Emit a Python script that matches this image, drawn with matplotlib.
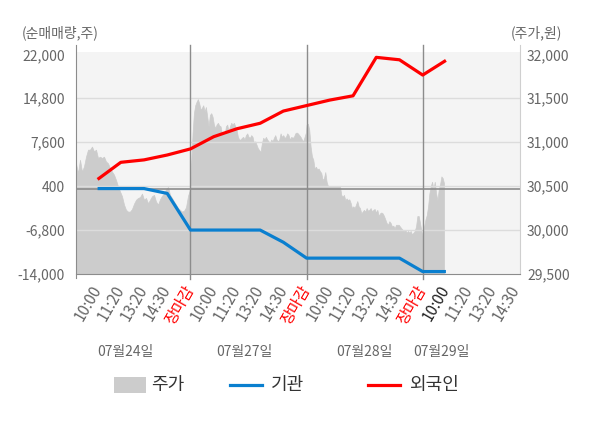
import numpy as np
import matplotlib
matplotlib.use('Agg')
import matplotlib.pyplot as plt
from matplotlib.patches import Rectangle
from matplotlib.lines import Line2D

plt.rcParams['font.family'] = ['Noto Sans CJK KR', 'DejaVu Sans']

# ---------------- data ----------------
tick_labels = ['10:00', '11:20', '13:20', '14:30', '장마감'] * 3 + ['10:00', '11:20', '13:20', '14:30']
date_labels = ['07월24일', '07월27일', '07월28일', '07월29일']
left_ticks = [22000, 14800, 7600, 400, -6800, -14000]
right_ticks = [29500, 30000, 30500, 31000, 31500, 32000]

foreign = [1500, 4300, 4700, 5500, 6500, 8500, 9800, 10700, 12700, 13600,
           14500, 15200, 21500, 21100, 18600, 21000]
institution = [0, 0, 0, -800, -6800, -6800, -6800, -6800, -8800, -11400,
               -11400, -11400, -11400, -11400, -13600, -13600]

price_day1 = [30755, 30650, 30800, 30665, 30725, 30835, 30915, 30915, 30950, 30895,
              30915, 30820, 30835, 30820, 30835, 30780, 30760, 30705, 30665, 30630,
              30570, 30495, 30440, 30385, 30290, 30230, 30210, 30210, 30240, 30300,
              30345, 30365, 30375, 30415, 30345, 30365, 30305, 30345, 30385, 30400,
              30325, 30290, 30350, 30390, 30415, 30465, 30490, 30400, 30365, 30325,
              30290, 30250, 30230, 30210, 30220, 30260, 30390, 30460]
price_day2 = [31100, 31330, 31420, 31460, 31490, 31440, 31370, 31390, 31420, 31350,
              31400, 31290, 31180, 31310, 31330, 31290, 31200, 31160, 31200, 31220,
              31190, 31180, 31100, 31120, 31080, 31180, 31200, 31120, 31180, 31220,
              31200, 31220, 31180, 31140, 31060, 31030, 31030, 31050, 31060, 31030,
              31080, 31100, 31060, 31050, 31080, 31060, 30990, 31010, 30970, 30930,
              30910, 30890, 30990, 31050, 31030, 31060, 31030, 31010, 30990, 31030,
              31010, 31050, 31080, 31030, 31010, 31030, 31100, 31060, 31080, 31050,
              31060, 31100, 31080, 31030, 31060, 31050, 31060, 31100, 31110, 31100,
              31080, 31060, 31030, 31010, 31060, 31110]
price_day3 = [31200, 31210, 31140, 30950, 30840, 30800, 30700, 30720, 30690, 30700,
              30670, 30650, 30570, 30590, 30660, 30550, 30500, 30500, 30500, 30500,
              30500, 30500, 30500, 30500, 30500, 30500, 30400, 30380, 30400, 30340,
              30360, 30340, 30350, 30310, 30250, 30270, 30250, 30290, 30330, 30270,
              30250, 30190, 30210, 30230, 30210, 30250, 30220, 30230, 30250, 30210,
              30230, 30240, 30200, 30230, 30160, 30190, 30200, 30190, 30160, 30120,
              30080, 30060, 30100, 30080, 30040, 30050, 30020, 30060, 30060, 30060,
              30040, 30020, 30000, 29990, 30000, 29970, 29990, 29970, 29990, 29950,
              29970, 29990, 30040, 30160, 30160, 30080, 29990, 29930]
price_day4 = [30040, 30120, 30170, 30270, 30420, 30500, 30550, 30460, 30550, 30420,
              30340, 30460, 30520, 30610, 30590, 30530]

# ---------------- layout ----------------
W, H = 600, 428
fig = plt.figure(figsize=(W / 100, H / 100), dpi=100)
ax_l, ax_r, ax_t, ax_b = 76, 520, 45, 274
ax = fig.add_axes([ax_l / W, 1 - ax_b / H, (ax_r - ax_l) / W, (ax_b - ax_t) / H])
ax2 = ax.twinx()
ax.set_zorder(2)
ax2.set_zorder(1)
ax.patch.set_visible(False)

xlim = (0.07, 19.19)
ax.set_xlim(*xlim)
left_lo, left_hi = -14000, 22000
px_l = (left_hi - left_lo) / (ax_b - 54.3)
ax.set_ylim(left_lo, left_hi + (54.3 - ax_t) * px_l)
right_lo, right_hi = 29500, 32000
px_r = (right_hi - right_lo) / (ax_b - 54.3)
ax2.set_ylim(right_lo, right_hi + (54.3 - ax_t) * px_r)

# background band
ax2.add_patch(Rectangle((xlim[0], right_lo), xlim[1] - xlim[0],
                        (right_hi - right_lo) + 2.6 * px_r,
                        facecolor='#f4f4f4', edgecolor='none', zorder=0))

# price area
segs = [(0.07, 4.98), (5.09, 9.97), (10.0, 15.0), (15.06, 15.92)]
days = [price_day1, price_day2, price_day3, price_day4]
xp = np.concatenate([np.linspace(a, b, len(p)) for (a, b), p in zip(segs, days)])
yp = np.concatenate([np.asarray(p, float) for p in days])
ax2.fill_between(xp, yp, right_lo, facecolor='#cccccc', edgecolor='#cccccc',
                 linewidth=0.5, zorder=1)

# grid lines
for v in [14800, 7600, 400, -6800]:
    ax.axhline(v, color='#dcdcdc', lw=1.0, zorder=1)
ax.axhline(0, color='#8c8c8c', lw=1.2, zorder=2)
for xv in [5, 10, 15]:
    ax.axvline(xv, ymin=-0.02, ymax=1, color='#8c8c8c', lw=1.0, zorder=2, clip_on=False)

# lines
xs = np.arange(1, len(foreign) + 1)
ax.plot(xs, institution, color='#0a7fcf', lw=2.3, zorder=4, solid_capstyle='butt')
ax.plot(xs, foreign, color='#ff0000', lw=2.3, zorder=5, solid_capstyle='butt')

# spines
ax.spines['top'].set_visible(False)
for s in ax2.spines.values():
    s.set_visible(False)
ax.spines['left'].set_color('#8c8c8c')
ax.spines['bottom'].set_color('#8c8c8c')
ax.spines['right'].set_color('#cfcfcf')
ax.spines['left'].set_bounds(left_lo - 4 * px_l, ax.get_ylim()[1])

# ticks
ax.set_yticks(left_ticks)
ax.set_yticklabels([f'{v:,}' for v in left_ticks])
ax.tick_params(axis='y', length=0, pad=8, labelcolor='#666666', labelsize=10)
ax2.set_yticks(right_ticks)
ax2.set_yticklabels([f'{v:,}' for v in right_ticks])
ax2.tick_params(axis='y', length=0, pad=5, labelcolor='#666666', labelsize=10)

ax.set_xticks(np.arange(1, len(tick_labels) + 1))
ax.set_xticklabels(tick_labels, rotation=60, ha='right', va='center', rotation_mode='anchor')
ax.tick_params(axis='x', length=0, pad=9, labelsize=11)
for i, t in enumerate(ax.get_xticklabels()):
    if tick_labels[i] == '장마감':
        t.set_color('#ff0000')
    elif i == 15:
        t.set_color('#222222')
    else:
        t.set_color('#666666')

# date labels
date_x = [2.18, 7.3, 12.5, 15.8]
for xv, lab in zip(date_x, date_labels):
    ax.annotate(lab, xy=(xv, H - 352), xycoords=('data', 'figure pixels'),
                ha='center', va='center', color='#666666', fontsize=10,
                annotation_clip=False)

# axis titles
fig.text(22 / W, 1 - 33 / H, '(순매매량,주)', ha='left', va='center', color='#666666', fontsize=10)
fig.text(562 / W, 1 - 33 / H, '(주가,원)', ha='right', va='center', color='#666666', fontsize=10)

# legend
ly = 1 - 385 / H
fig.add_artist(Rectangle((114 / W, 1 - 393 / H), 32 / W, 16 / H, transform=fig.transFigure,
                         facecolor='#cccccc', edgecolor='none'))
fig.text(151 / W, ly, '주가', ha='left', va='center', color='#333333', fontsize=13)
fig.add_artist(Line2D([230 / W, 262 / W], [ly, ly], transform=fig.transFigure,
                      color='#0a7fcf', lw=2.3))
fig.text(271 / W, ly, '기관', ha='left', va='center', color='#333333', fontsize=13)
fig.add_artist(Line2D([368 / W, 400 / W], [ly, ly], transform=fig.transFigure,
                      color='#ff0000', lw=2.3))
fig.text(409 / W, ly, '외국인', ha='left', va='center', color='#333333', fontsize=13)

fig.savefig('out.png', dpi=100)
